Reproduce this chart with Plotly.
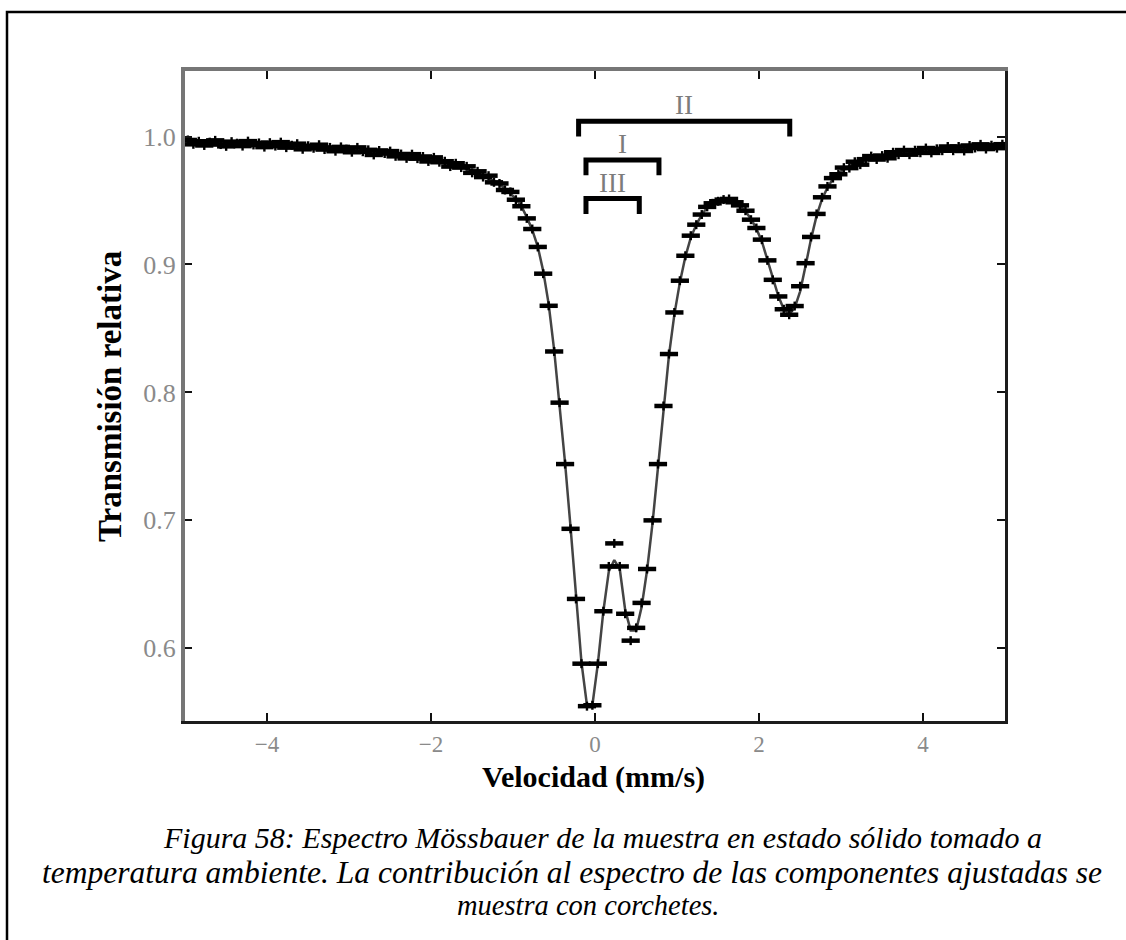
import plotly.graph_objects as go

# ---------------- data ----------------
velocity = [
    -4.965, -4.898, -4.832, -4.765, -4.698, -4.632, -4.565, -4.498, -4.432, -4.365, -4.298, -4.232, -4.165, -4.098, -4.032,
    -3.965, -3.898, -3.832, -3.765, -3.698, -3.632, -3.565, -3.498, -3.432, -3.365, -3.298, -3.232, -3.165, -3.098, -3.032,
    -2.965, -2.898, -2.832, -2.765, -2.698, -2.632, -2.565, -2.498, -2.432, -2.365, -2.298, -2.232, -2.165, -2.098, -2.032,
    -1.965, -1.898, -1.832, -1.765, -1.698, -1.632, -1.565, -1.498, -1.432, -1.365, -1.298, -1.232, -1.165, -1.098, -1.032,
    -0.965, -0.898, -0.832, -0.765, -0.698, -0.632, -0.565, -0.498, -0.432, -0.365, -0.298, -0.232, -0.165, -0.098, -0.032,
    0.035, 0.102, 0.168, 0.235, 0.302, 0.368, 0.435, 0.502, 0.568, 0.635, 0.702, 0.768, 0.835, 0.902, 0.968,
    1.035, 1.102, 1.168, 1.235, 1.302, 1.368, 1.435, 1.502, 1.568, 1.635, 1.702, 1.768, 1.835, 1.902, 1.968,
    2.035, 2.102, 2.168, 2.235, 2.302, 2.368, 2.435, 2.502, 2.568, 2.635, 2.702, 2.768, 2.835, 2.902, 2.968,
    3.035, 3.102, 3.168, 3.235, 3.302, 3.368, 3.435, 3.502, 3.568, 3.635, 3.702, 3.768, 3.835, 3.902, 3.968,
    4.035, 4.102, 4.168, 4.235, 4.302, 4.368, 4.435, 4.502, 4.568, 4.635, 4.702, 4.768, 4.835, 4.902, 4.968,
]

transmission = [
    0.9973, 0.9939, 0.9963, 0.9930, 0.9956, 0.9970, 0.9937, 0.9923, 0.9960, 0.9948, 0.9925, 0.9964, 0.9934, 0.9950, 0.9917,
    0.9952, 0.9925, 0.9956, 0.9913, 0.9932, 0.9944, 0.9900, 0.9928, 0.9908, 0.9936, 0.9898, 0.9915, 0.9885, 0.9919, 0.9901,
    0.9877, 0.9915, 0.9881, 0.9896, 0.9856, 0.9891, 0.9867, 0.9886, 0.9845, 0.9863, 0.9829, 0.9862, 0.9827, 0.9844, 0.9805,
    0.9837, 0.9799, 0.9807, 0.9765, 0.9791, 0.9757, 0.9767, 0.9716, 0.9728, 0.9683, 0.9694, 0.9642, 0.9633, 0.9582, 0.9567,
    0.9506, 0.9455, 0.9360, 0.9277, 0.9137, 0.8928, 0.8677, 0.8320, 0.7920, 0.7440, 0.6934, 0.6386, 0.5880, 0.5548, 0.5555,
    0.5880, 0.6290, 0.6640, 0.6820, 0.6640, 0.6270, 0.6060, 0.6160, 0.6355, 0.6620, 0.7000, 0.7440, 0.7894, 0.8300, 0.8625,
    0.8873, 0.9068, 0.9225, 0.9311, 0.9390, 0.9450, 0.9478, 0.9494, 0.9507, 0.9512, 0.9486, 0.9462, 0.9420, 0.9350, 0.9285,
    0.9194, 0.9032, 0.8880, 0.8750, 0.8650, 0.8607, 0.8675, 0.8830, 0.9010, 0.9215, 0.9395, 0.9525, 0.9610, 0.9675, 0.9705,
    0.9757, 0.9753, 0.9803, 0.9780, 0.9823, 0.9847, 0.9820, 0.9851, 0.9830, 0.9877, 0.9858, 0.9894, 0.9858, 0.9893, 0.9873,
    0.9910, 0.9872, 0.9904, 0.9889, 0.9922, 0.9889, 0.9922, 0.9887, 0.9930, 0.9910, 0.9939, 0.9902, 0.9932, 0.9909, 0.9940,
]

fitted = [
    0.9955, 0.9954, 0.9953, 0.9952, 0.9951, 0.9950, 0.9949, 0.9948, 0.9946, 0.9945, 0.9943, 0.9942, 0.9940, 0.9939, 0.9937,
    0.9936, 0.9934, 0.9932, 0.9930, 0.9928, 0.9925, 0.9923, 0.9920, 0.9918, 0.9915, 0.9912, 0.9909, 0.9906, 0.9902, 0.9899,
    0.9896, 0.9892, 0.9888, 0.9884, 0.9880, 0.9876, 0.9871, 0.9866, 0.9861, 0.9856, 0.9850, 0.9844, 0.9838, 0.9831, 0.9824,
    0.9816, 0.9807, 0.9797, 0.9787, 0.9775, 0.9762, 0.9748, 0.9733, 0.9716, 0.9697, 0.9676, 0.9652, 0.9625, 0.9594, 0.9557,
    0.9513, 0.9455, 0.9370, 0.9270, 0.9140, 0.8950, 0.8690, 0.8330, 0.7920, 0.7450, 0.6945, 0.6395, 0.5890, 0.5555, 0.5555,
    0.5880, 0.6290, 0.6600, 0.6690, 0.6620, 0.6300, 0.6140, 0.6140, 0.6320, 0.6610, 0.6980, 0.7420, 0.7880, 0.8290, 0.8610,
    0.8860, 0.9060, 0.9210, 0.9310, 0.9390, 0.9445, 0.9480, 0.9500, 0.9508, 0.9505, 0.9490, 0.9460, 0.9415, 0.9355, 0.9280,
    0.9180, 0.9040, 0.8890, 0.8755, 0.8650, 0.8610, 0.8660, 0.8790, 0.8990, 0.9200, 0.9380, 0.9510, 0.9600, 0.9670, 0.9715,
    0.9745, 0.9768, 0.9785, 0.9800, 0.9814, 0.9826, 0.9836, 0.9845, 0.9853, 0.9860, 0.9866, 0.9872, 0.9877, 0.9882, 0.9886,
    0.9890, 0.9894, 0.9897, 0.9900, 0.9903, 0.9906, 0.9909, 0.9911, 0.9914, 0.9916, 0.9918, 0.9920, 0.9922, 0.9924, 0.9926,
]

# component brackets (hyperfine doublets)
bracket_labels = ["II", "I", "III"]
bracket_left = [-0.20, -0.11, -0.11]
bracket_right = [2.375, 0.78, 0.54]
bracket_level = [1.012, 0.9817, 0.9515]

x_ticks = [-4, -2, 0, 2, 4]
y_ticks = [0.6, 0.7, 0.8, 0.9, 1.0]
y_tick_text = ["0.6", "0.7", "0.8", "0.9", "1.0"]

x_title = "Velocidad (mm/s)"
y_title = "Transmisión relativa"
caption_lines = [
    "Figura 58: Espectro Mössbauer de la muestra en estado sólido tomado a",
    "temperatura ambiente. La contribución al espectro de las componentes ajustadas se",
    "muestra con corchetes.",
]

# ---------------- figure ----------------
SERIF = "Liberation Serif, Times New Roman, serif"
GREY_AX = "#767676"
DARK_AX = "#1c1c1c"
LEG = 0.012
L, T, W, H = 185, 71, 820, 650          # plot area in pixels


def px_x(px):
    return (px - L) / W


def px_y(py):
    return (T + H - py) / H


fig = go.Figure()

fig.add_trace(go.Scatter(
    x=velocity, y=fitted, mode="lines",
    line=dict(color="#444444", width=2.5),
    hoverinfo="skip", showlegend=False,
))

fig.add_trace(go.Scatter(
    x=velocity, y=transmission, mode="markers",
    marker=dict(symbol="line-ew", size=13, color="black",
                line=dict(color="black", width=4.5)),
    error_y=dict(type="constant", value=0.0035, thickness=2.4, width=0, color="black"),
    showlegend=False,
))

for lab, x0, x1, lvl in zip(bracket_labels, bracket_left, bracket_right, bracket_level):
    fig.add_trace(go.Scatter(
        x=[x0, x0, x1, x1], y=[lvl - LEG, lvl, lvl, lvl - LEG],
        mode="lines", line=dict(color="black", width=5),
        xaxis="x2", yaxis="y2", hoverinfo="skip", showlegend=False,
    ))
    fig.add_annotation(
        x=(x0 + x1) / 2, y=lvl, xref="x", yref="y",
        text=lab, showarrow=False, yanchor="middle", yshift=16,
        font=dict(family=SERIF, size=27, color="#7c7c7c"),
    )

fig.update_layout(
    width=1126, height=940,
    margin=dict(l=L, r=1126 - L - W, t=T, b=940 - T - H),
    paper_bgcolor="white", plot_bgcolor="white",
    xaxis=dict(
        range=[-5, 5], showgrid=False, zeroline=False,
        showline=True, linecolor=DARK_AX, linewidth=3, mirror=False,
        ticks="inside", ticklen=8, tickwidth=2, tickcolor="#111",
        tickvals=x_ticks,
        tickfont=dict(family=SERIF, size=23, color="#8a8a8a"),
    ),
    xaxis2=dict(
        overlaying="x", side="top", matches="x", range=[-5, 5],
        showgrid=False, zeroline=False,
        showline=True, linecolor=GREY_AX, linewidth=4,
        ticks="inside", ticklen=8, tickwidth=2, tickcolor="#111",
        tickvals=x_ticks, showticklabels=False,
    ),
    yaxis=dict(
        range=[0.5432, 1.0512], showgrid=False, zeroline=False,
        showline=True, linecolor=GREY_AX, linewidth=4, mirror=False,
        ticks="inside", ticklen=7, tickwidth=2, tickcolor="#111",
        tickvals=y_ticks, ticktext=y_tick_text,
        tickfont=dict(family=SERIF, size=26, color="#8a8a8a"),
    ),
    yaxis2=dict(
        overlaying="y", side="right", matches="y", range=[0.5432, 1.0512],
        showgrid=False, zeroline=False,
        showline=True, linecolor=DARK_AX, linewidth=3,
        ticks="inside", ticklen=8, tickwidth=2, tickcolor="#111",
        tickvals=y_ticks, showticklabels=False,
    ),
)

# axis titles
fig.add_annotation(
    x=px_x(110), y=px_y(397), xref="paper", yref="paper", text="<b>" + y_title + "</b>",
    textangle=-90, showarrow=False, xanchor="center", yanchor="middle",
    font=dict(family=SERIF, size=33, color="black"),
)
fig.add_annotation(
    x=px_x(593), y=px_y(777), xref="paper", yref="paper", text="<b>" + x_title + "</b>",
    showarrow=False, xanchor="center", yanchor="middle",
    font=dict(family=SERIF, size=30, color="black"),
)
# caption, one line per annotation (tight document line spacing)
for ln, cx, cy, fs in zip(caption_lines, [602, 572, 588], [837, 872, 906], [30, 31.5, 28.5]):
    fig.add_annotation(
        x=px_x(cx), y=px_y(cy), xref="paper", yref="paper",
        text="<i>" + ln + "</i>",
        showarrow=False, xanchor="center", yanchor="middle",
        font=dict(family=SERIF, size=fs, color="black"),
    )

# outer frame (only left and top edges fall inside the canvas)
fig.add_shape(
    type="rect", xref="paper", yref="paper",
    x0=px_x(7), x1=px_x(1140), y0=px_y(960), y1=px_y(12),
    line=dict(color="black", width=2.5), fillcolor="rgba(0,0,0,0)", layer="below",
)

fig.write_html("out.html", config={"displayModeBar": False},
               post_script="document.body.style.margin='0';")
